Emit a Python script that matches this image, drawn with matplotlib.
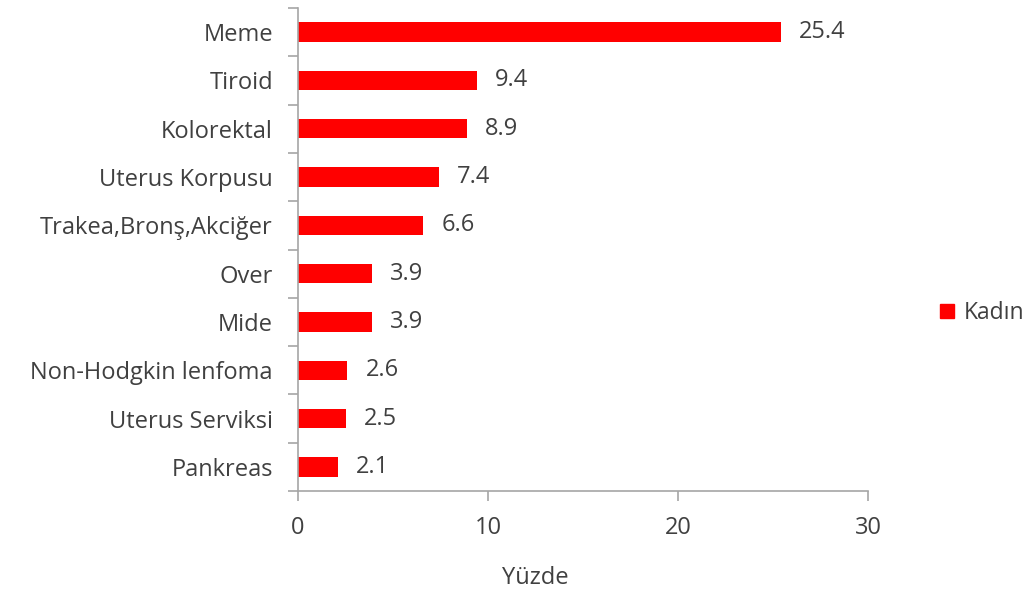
import matplotlib
matplotlib.use("Agg")
import matplotlib.pyplot as plt
from matplotlib.patches import Patch

categories = ["Meme", "Tiroid", "Kolorektal", "Uterus Korpusu", "Trakea,Bronş,Akciğer",
              "Over", "Mide", "Non-Hodgkin lenfoma", "Uterus Serviksi", "Pankreas"]
values = [25.4, 9.4, 8.9, 7.4, 6.6, 3.9, 3.9, 2.6, 2.5, 2.1]
x_ticks = [0, 10, 20, 30]
series_name = "Kadın"
x_label = "Yüzde"

plt.rcParams['font.family'] = ['Open Sans', 'DejaVu Sans']
text_color = "#404040"
spine_color = "#a6a6a6"
bar_color = "#ff0000"
fs = 17

fig = plt.figure(figsize=(10.34, 5.95), dpi=100)
ax = fig.add_axes([298 / 1034, 1 - 491 / 595, (868 - 298) / 1034, (491 - 8) / 595])

n = len(categories)
pos = list(range(n))
ax.barh(pos, values, height=0.4, color=bar_color, zorder=2)
for p, v in zip(pos, values):
    ax.annotate(f"{v:.1f}", (v, p), xytext=(13, 0), textcoords="offset points",
                va="center", ha="left", fontsize=fs, color=text_color)

ax.set_ylim(n - 0.5, -0.5)
ax.set_xlim(0, 30)
ax.set_xticks(x_ticks)
ax.set_xticklabels([str(t) for t in x_ticks], fontsize=fs, color=text_color)

ax.set_yticks(pos)
ax.set_yticklabels(categories, fontsize=fs, color=text_color)
ax.tick_params(axis="y", length=0, pad=18)
# category boundary ticks
ax.set_yticks([i - 0.5 for i in range(n + 1)], minor=True)
ax.tick_params(axis="y", which="minor", length=7, color=spine_color, width=1.2)
ax.tick_params(axis="x", length=7, color=spine_color, width=1.2, pad=11)

for side in ("top", "right"):
    ax.spines[side].set_visible(False)
for side in ("left", "bottom"):
    ax.spines[side].set_color(spine_color)
    ax.spines[side].set_linewidth(1.2)

ax.set_xlabel(x_label, fontsize=fs, color=text_color)
ax.xaxis.set_label_coords((535 - 298) / 570, -(578 - 491) / 483)
ax.xaxis.label.set_va("center")

fig.legend(handles=[Patch(color=bar_color, label=series_name)], loc="center left",
           bbox_to_anchor=(940 / 1034, 1 - 313 / 595), frameon=False, fontsize=16.5,
           borderpad=0, borderaxespad=0,
           handlelength=0.6, handleheight=0.6, handletextpad=0.45, labelcolor=text_color)

fig.savefig("out.png", dpi=100, facecolor="white")
